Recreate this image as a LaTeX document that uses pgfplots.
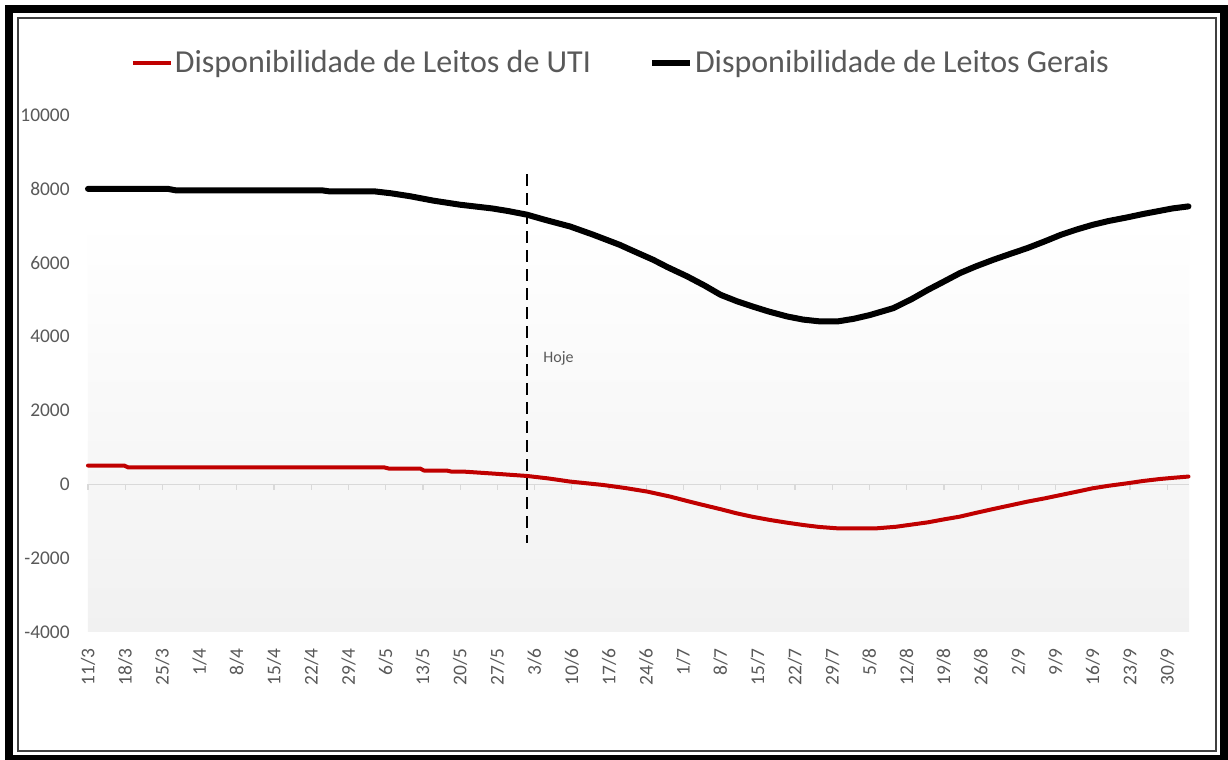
\documentclass[border=0pt]{standalone}
\usepackage{fontspec}
\setmainfont{Carlito}
\usepackage{pgfplots}
\pgfplotsset{compat=1.18}

\definecolor{txtgray}{RGB}{89,89,89}
\definecolor{axisgray}{RGB}{217,217,217}
\definecolor{utired}{RGB}{192,0,0}
\definecolor{bgbot}{RGB}{241,241,241}
\definecolor{framegray}{RGB}{64,64,64}

\begin{document}
\begin{tikzpicture}
\useasboundingbox (-44pt,-64pt) rectangle (570pt,316pt);
\fill[white] (-44pt,-64pt) rectangle (570pt,316pt);
% outer frame
\draw[line width=4pt] (-39.5pt,-63.5pt) rectangle (568pt,311.5pt);
\draw[framegray, line width=0.6pt] (-35pt,-59.5pt) rectangle (564pt,307pt);

\begin{axis}[
    at={(0,0)}, anchor=south west,
    scale only axis,
    width=550.5pt, height=258.5pt,
    xmin=0, xmax=207.1,
    ymin=-4000, ymax=10000,
    clip=false,
    scaled ticks=false,
    axis x line*=bottom, axis y line*=left,
    axis line style={draw=none},
    major tick length=0pt,
    /pgf/number format/assume math mode=true,
    /pgf/number format/set thousands separator={},
    ytick={-4000,-2000,0,2000,4000,6000,8000,10000},
    yticklabels={-4000,-2000,0,2000,4000,6000,8000,10000},
    xtick={0,7,...,203},
    xticklabels={11/3,18/3,25/3,1/4,8/4,15/4,22/4,29/4,6/5,13/5,20/5,27/5,3/6,10/6,17/6,24/6,1/7,8/7,15/7,22/7,29/7,5/8,12/8,19/8,26/8,2/9,9/9,16/9,23/9,30/9},
    tick label style={text=txtgray, font=\fontsize{9.7}{11.6}\selectfont, inner sep=0pt},
    xticklabel style={rotate=90, anchor=east},
    yticklabel style={anchor=east},
    xticklabel shift=8pt,
    yticklabel shift=9pt,
    legend columns=2,
    legend style={draw=none, fill=none, at={(0.484,1.10)}, anchor=center,
        font=\fontsize{16}{19}\selectfont, text=txtgray,
        nodes={inner sep=1pt},
        /tikz/every even column/.append style={column sep=28pt},
        /tikz/every odd column/.append style={column sep=0pt}},
    legend image code/.code={\draw[#1, line cap=butt] (0pt,0pt) -- (19pt,0pt);},
]
% plot area background
\fill[top color=white, bottom color=bgbot, draw=none] (axis cs:0,-4000) rectangle (axis cs:207.1,7150);
% zero line with week ticks
\draw[axisgray, line width=0.6pt] (axis cs:0,0) -- (axis cs:207.1,0);
\pgfplotsinvokeforeach{0,7,...,203}{\draw[axisgray, line width=0.6pt] (axis cs:#1,0) -- ++(0pt,-3pt);}

\addplot[utired, line width=2pt, line join=round, line cap=round] coordinates {
(0,507) (6.8,507) (7.6,455) (55.8,455) (56.6,425) (62.5,425) (63.2,372) (67.5,372)
(68.3,345) (71,340) (76.2,290) (82.6,225) (86.5,160) (90.7,73) (96.9,-19) (101,-100)
(105.2,-198) (109.5,-333) (112.5,-445) (115.7,-560) (119,-675) (122,-786) (125,-880)
(128.3,-967) (131.5,-1040) (134.5,-1102) (137.5,-1155) (140.9,-1192) (148.4,-1192)
(152,-1150) (155,-1090) (158,-1030) (161,-950) (164,-876) (167,-775) (170.3,-669)
(173.5,-570) (176.7,-470) (180,-380) (183,-290) (186,-200) (189,-108) (192,-40)
(195.5,27) (198.5,90) (201.7,144) (204.5,180) (207,209)
};
\addlegendentry{Disponibilidade de Leitos de UTI}

\addplot[black, line width=3pt, line join=round, line cap=round] coordinates {
(0,8000) (15,8000) (16.5,7960) (44,7960) (45.5,7930) (54,7930) (57,7880) (60.6,7800)
(65,7680) (70,7570) (76,7470) (79,7400) (82.6,7300) (86,7160) (90.7,6980) (95,6760)
(100,6485) (103,6290) (106.3,6080) (109,5880) (112.7,5630) (116,5380) (119,5130)
(122,4960) (125,4815) (128,4680) (131.5,4545) (134.5,4460) (137.7,4410) (141,4410)
(144,4480) (147,4580) (151.5,4770) (155,5020) (158,5265) (161,5490) (164,5718)
(167,5900) (170.3,6080) (173.5,6240) (176.7,6396) (180,6580) (183,6756) (186,6900)
(189,7027) (192,7130) (195.5,7228) (198.5,7320) (201.7,7407) (204,7470) (207,7525)
};
\addlegendentry{Disponibilidade de Leitos Gerais}

% "Hoje" marker
\addplot[black, line width=1.2pt, dash pattern=on 6pt off 3.5pt, forget plot] coordinates {(82.6,8400) (82.6,-1600)};
\node[anchor=west, text=txtgray, font=\fontsize{8}{9.6}\selectfont, inner sep=0pt] at (axis cs:85.6,3415) {Hoje};
\end{axis}
\end{tikzpicture}
\end{document}
